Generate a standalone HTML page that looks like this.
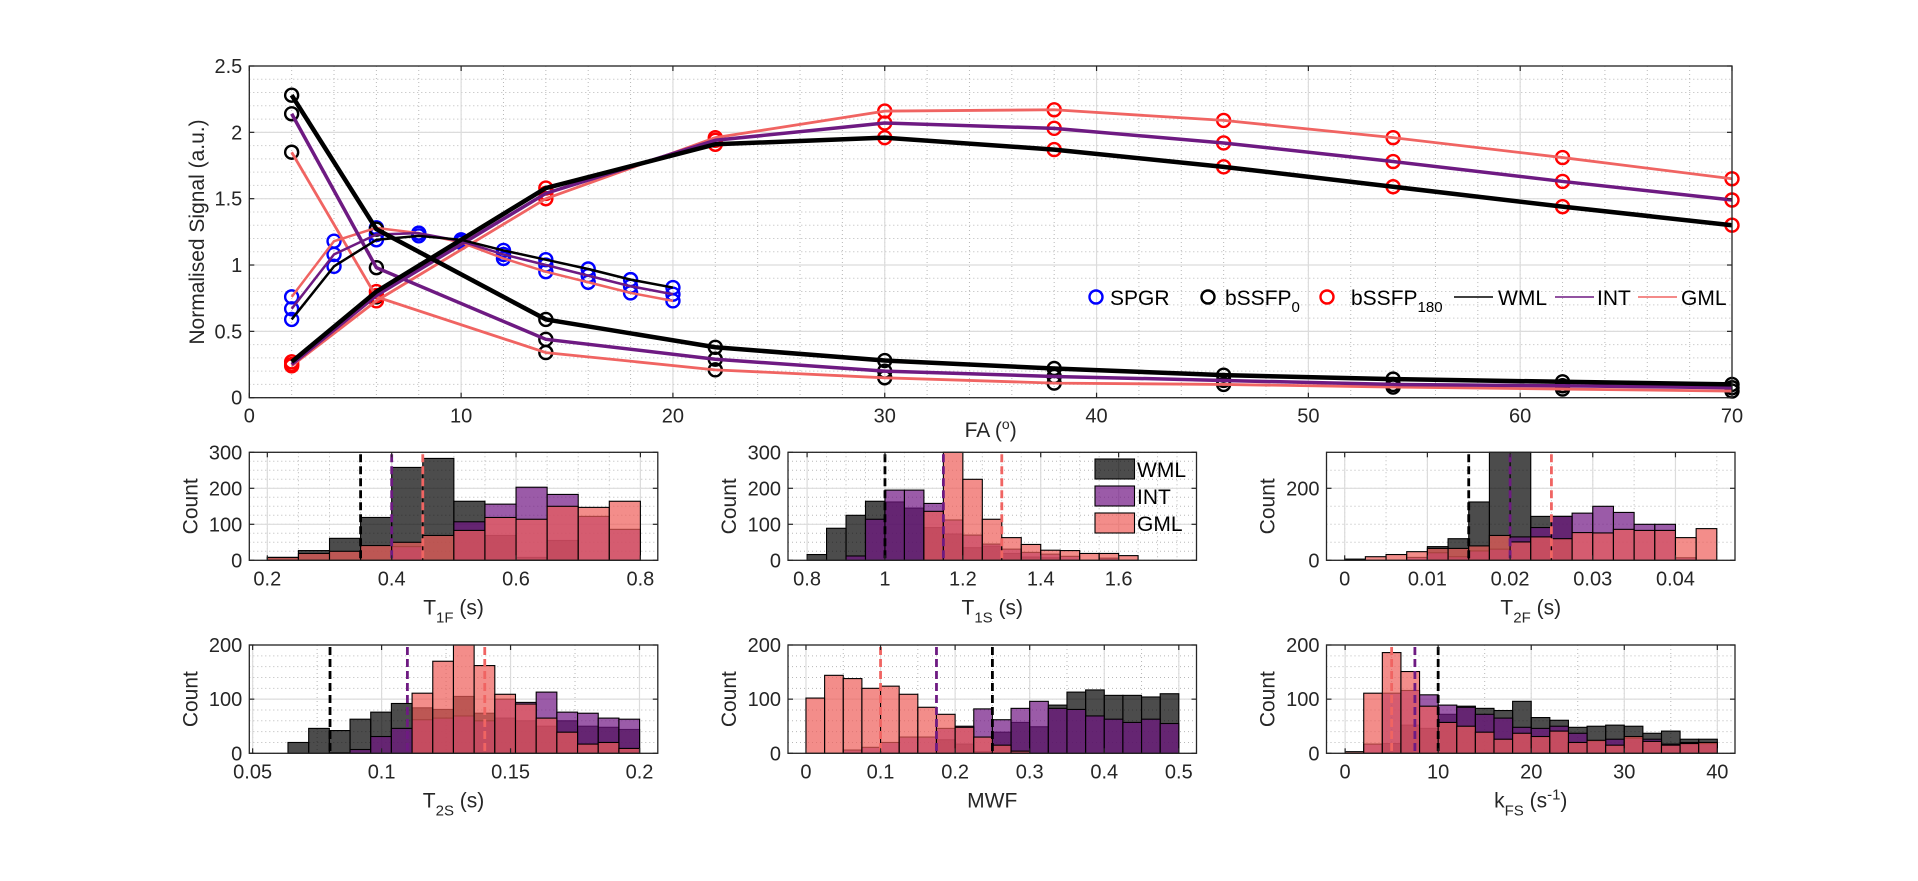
<!DOCTYPE html>
<html><head><meta charset="utf-8"><style>
html,body{margin:0;padding:0;background:#fff;}
svg{display:block;font-family:"Liberation Sans","DejaVu Sans",sans-serif;}
</style></head><body>
<svg id="fig" width="1918" height="881" viewBox="0 0 1918 881" xmlns="http://www.w3.org/2000/svg"></svg>
<script>
// ---------- top chart data ----------
const faSPGR = [2,4,6,8,10,12,14,16,18,20];
const spgrWML = [0.59,0.99,1.19,1.22,1.19,1.11,1.04,0.97,0.89,0.83];
const spgrINT = [0.67,1.08,1.23,1.24,1.18,1.08,1.00,0.92,0.84,0.78];
const spgrGML = [0.76,1.18,1.28,1.24,1.17,1.05,0.95,0.87,0.79,0.73];
const faSSFP = [2,6,14,22,30,38,46,54,62,70];
const ssfp0WML = [2.28,1.27,0.59,0.38,0.28,0.22,0.17,0.14,0.12,0.10];
const ssfp0INT = [2.14,0.98,0.44,0.29,0.20,0.16,0.13,0.10,0.09,0.075];
const ssfp0GML = [1.85,0.76,0.34,0.21,0.15,0.11,0.10,0.08,0.065,0.05];
const ssfp180WML = [0.27,0.80,1.58,1.91,1.96,1.87,1.74,1.59,1.44,1.30];
const ssfp180INT = [0.25,0.77,1.54,1.94,2.07,2.03,1.92,1.78,1.63,1.49];
const ssfp180GML = [0.24,0.73,1.50,1.96,2.16,2.17,2.09,1.96,1.81,1.65];
const topXTicks = [0,10,20,30,40,50,60,70];
const topYTicks = [0,0.5,1,1.5,2,2.5];
const topYTickLabels = ["0","0.5","1","1.5","2","2.5"];

// ---------- histogram data ----------
const t1fStart = 0.2, t1fWidth = 0.05;
const t1fWML = [8,27,61,119,258,283,164,69,8,55,0,0];
const t1fINT = [0,0,0,0,38,0,107,156,203,183,122,86];
const t1fGML = [8,19,25,41,50,69,83,119,114,150,147,164];
const t1fMedians = [0.35,0.40,0.45];

const t1sStart = 0.8, t1sWidth = 0.05;
const t1sWML = [16,89,125,164,162,145,91,73,35,39,19,9,7,0,0,0,0];
const t1sINT = [0,0,12,114,195,195,158,112,70,45,31,22,17,11,0,6,0];
const t1sGML = [0,0,0,0,0,0,136,330,225,114,63,44,28,27,19,19,13];
const t1sMedians = [1.0,1.15,1.3];

const t2fStart = 0, t2fWidth = 0.0025;
const t2fWML = [3,0,0,0,38,60,162,420,400,122,122,0,0,0,0,0,0,0];
const t2fINT = [0,0,0,8,21,10,26,31,65,91,122,131,150,133,100,100,7,0];
const t2fGML = [3,10,16,24,33,33,40,69,51,65,60,77,76,86,83,83,63,88];
const t2fMedians = [0.015,0.02,0.025];

const t2sStart = 0.0637, t2sWidth = 0.00802;
const t2sWML = [20,46,42,63,76,92,84,81,105,74,65,60,50,60,50,48,44];
const t2sINT = [0,0,1,7,31,46,62,65,69,60,100,94,113,76,74,65,63];
const t2sGML = [0,0,0,0,0,0,111,170,205,162,109,91,65,39,17,20,9];
const t2sMedians = [0.08,0.11,0.14];

const mwfStart = 0, mwfWidth = 0.025;
const mwfWML = [0,0,0,0,0,0,0,25,17,3,39,57,49,89,113,117,107,107,104,110];
const mwfINT = [0,0,6,11,20,30,30,46,50,82,62,83,96,83,81,69,63,57,63,55];
const mwfGML = [102,144,138,120,124,109,85,72,48,30,15,4,0,0,0,0,0,0,0,0];
const mwfMedians = [0.25,0.175,0.1];

const kfsStart = 0, kfsWidth = 2;
const kfsWML = [0,0,18,52,46,72,87,83,79,96,66,61,48,50,52,50,37,41,26,26];
const kfsINT = [0,17,111,116,108,89,85,72,65,48,46,50,37,23,26,28,26,17,20,18];
const kfsGML = [3,111,186,151,87,57,50,39,26,37,31,41,20,24,15,31,22,15,18,20];
const kfsMedians = [10,7.5,5];

const groupNames = ["WML","INT","GML"];
const groupColors = ["#000000","#701683","#ee5c59"];
const lineColors = ["#000000","#6e1a82","#f06462"];

// ---------- drawing ----------
const NS = "http://www.w3.org/2000/svg";
const svg = document.getElementById('fig');
const TICKFS = 20, LABFS = 21;
function mk(tag, attrs, parent){
  const e = document.createElementNS(NS, tag);
  for (const k in attrs) e.setAttribute(k, attrs[k]);
  (parent||svg).appendChild(e);
  return e;
}

function axesFrame(g, x0,x1,y0,y1, sx, sy, xlim, ylim, xMaj, yMaj, xMinStep, yMinStep){
  mk('rect',{x:x0,y:y0,width:x1-x0,height:y1-y0,fill:'#fff'},g);
  const minor = mk('g',{stroke:'#b8b8b8','stroke-width':1,'stroke-dasharray':'1,3',fill:'none'},g);
  
  
  let st = Math.ceil(xlim[0]/xMinStep-1e-6);
  for (let k=st; k*xMinStep<=xlim[1]+1e-9; k++){ const X=sx(k*xMinStep); mk('line',{x1:X,x2:X,y1:y0,y2:y1},minor); }
  st = Math.ceil(ylim[0]/yMinStep-1e-6);
  for (let k=st; k*yMinStep<=ylim[1]+1e-9; k++){ const Y=sy(k*yMinStep); mk('line',{x1:x0,x2:x1,y1:Y,y2:Y},minor); }
  const major = mk('g',{stroke:'#dcdcdc','stroke-width':1.2},g);
  
  
  xMaj.forEach(v=>{const X=sx(v); mk('line',{x1:X,x2:X,y1:y0,y2:y1},major);});
  yMaj.forEach(v=>{const Y=sy(v); mk('line',{x1:x0,x2:x1,y1:Y,y2:Y},major);});
}
function axesBox(g, x0,x1,y0,y1, sx, sy, xMaj, yMaj, xLabels, yLabels, fs){
  const t = mk('g',{stroke:'#262626','stroke-width':1.2},g);
  const tl = 5;
  xMaj.forEach(v=>{const X=sx(v); mk('line',{x1:X,x2:X,y1:y1,y2:y1-tl},t); mk('line',{x1:X,x2:X,y1:y0,y2:y0+tl},t);});
  yMaj.forEach(v=>{const Y=sy(v); mk('line',{x1:x0,x2:x0+tl,y1:Y,y2:Y},t); mk('line',{x1:x1,x2:x1-tl,y1:Y,y2:Y},t);});
  const box = mk('rect',{x:x0,y:y0,width:x1-x0,height:y1-y0,fill:'none',stroke:'#262626','stroke-width':1.3},g);
  
  
  xMaj.forEach((v,i)=>{
    const tx = mk('text',{x:sx(v),y:y1+25,'font-size':fs,fill:'#262626','text-anchor':'middle'},g);
    tx.textContent = xLabels[i];
    
    
  });
  yMaj.forEach((v,i)=>{
    const tx = mk('text',{x:x0-7,y:sy(v)+7,'font-size':fs,fill:'#262626','text-anchor':'end'},g);
    tx.textContent = yLabels[i];
    
    
  });
}

// ===== Top chart =====
(function(){
  const x0=249.3,x1=1732,y0=66,y1=397.7;
  const xlim=[0,70], ylim=[0,2.5];
  const sx=v=>x0+(v-xlim[0])/(xlim[1]-xlim[0])*(x1-x0);
  const sy=v=>y1-(v-ylim[0])/(ylim[1]-ylim[0])*(y1-y0);
  const g = mk('g',{});
  
  
  axesFrame(g,x0,x1,y0,y1,sx,sy,xlim,ylim,topXTicks,topYTicks,2,0.1);
  function line(xs,ys,color,w,name){
    const p = mk('polyline',{points:xs.map((x,i)=>sx(x)+','+sy(ys[i])).join(' '),fill:'none',stroke:color,'stroke-width':w,'stroke-linejoin':'round'},g);
    
    
  }
  function circles(xs,ys,color,name){
    const cg = mk('g',{fill:'none',stroke:color,'stroke-width':2.4},g);
    
    
    xs.forEach((x,i)=>mk('circle',{cx:sx(x),cy:sy(ys[i]),r:6.5},cg));
  }
  const widths=[4.5,3.5,2.8];
  const sp=[spgrWML,spgrINT,spgrGML], s0=[ssfp0WML,ssfp0INT,ssfp0GML], s180=[ssfp180WML,ssfp180INT,ssfp180GML];
  for(let i=0;i<3;i++){ circles(faSPGR,sp[i],'#0000ff','spgr-points-'+groupNames[i].toLowerCase()); }
  for(let i=0;i<3;i++){ circles(faSSFP,s0[i],'#000000','bssfp0-points-'+groupNames[i].toLowerCase()); }
  for(let i=0;i<3;i++){ circles(faSSFP,s180[i],'#ff0000','bssfp180-points-'+groupNames[i].toLowerCase()); }
  for(let i=2;i>=0;i--){
    line(faSPGR,sp[i],lineColors[i],2.5,'spgr-line-'+groupNames[i].toLowerCase());
    line(faSSFP,s0[i],lineColors[i],widths[i],'bssfp0-line-'+groupNames[i].toLowerCase());
    line(faSSFP,s180[i],lineColors[i],widths[i],'bssfp180-line-'+groupNames[i].toLowerCase());
  }
  axesBox(g,x0,x1,y0,y1,sx,sy,topXTicks,topYTicks,topXTicks.map(String),topYTickLabels,TICKFS);
  const xl = mk('text',{x:(x0+x1)/2,y:437,'font-size':LABFS,fill:'#262626','text-anchor':'middle'},g);
  xl.innerHTML = 'FA (<tspan dy="-8" font-size="14">o</tspan><tspan dy="8">)</tspan>';
  
  
  const yl = mk('text',{x:0,y:0,'font-size':LABFS,fill:'#262626','text-anchor':'middle',transform:'translate(204,232) rotate(-90)'},g);
  yl.textContent='Normalised Signal (a.u.)';
  
  
  const lg = mk('g',{},g);
  
  
  const ly = 297;
  mk('circle',{cx:1096,cy:ly,r:6.5,fill:'none',stroke:'#0000ff','stroke-width':2.4},lg);
  let t=mk('text',{x:1110,y:ly+8,'font-size':LABFS,fill:'#000'},lg); t.textContent='SPGR';
  mk('circle',{cx:1208,cy:ly,r:6.5,fill:'none',stroke:'#000','stroke-width':2.4},lg);
  t=mk('text',{x:1225,y:ly+8,'font-size':LABFS,fill:'#000'},lg); t.innerHTML='bSSFP<tspan dy="7" font-size="15">0</tspan>';
  mk('circle',{cx:1327,cy:ly,r:6.5,fill:'none',stroke:'#ff0000','stroke-width':2.4},lg);
  t=mk('text',{x:1351,y:ly+8,'font-size':LABFS,fill:'#000'},lg); t.innerHTML='bSSFP<tspan dy="7" font-size="15">180</tspan>';
  const lx=[1454,1555,1638], tx=[1498,1597,1681];
  for(let i=0;i<3;i++){
    mk('line',{x1:lx[i],x2:lx[i]+39,y1:ly,y2:ly,stroke:lineColors[i],'stroke-width':1.5},lg);
    t=mk('text',{x:tx[i],y:ly+8,'font-size':LABFS,fill:'#000'},lg); t.textContent=groupNames[i];
  }
})();

// ===== Histograms =====
function hist(cfg){
  const {x0,x1,y0,y1,xlim,ylim,xt,xtl,yt,xmin,ymin,start,width,series,medians,label,name}=cfg;
  const sx=v=>x0+(v-xlim[0])/(xlim[1]-xlim[0])*(x1-x0);
  const sy=v=>y1-(Math.min(v,ylim[1])-ylim[0])/(ylim[1]-ylim[0])*(y1-y0);
  const g = mk('g',{});
  
  
  axesFrame(g,x0,x1,y0,y1,sx,sy,xlim,ylim,xt,yt,xmin,ymin);
  series.forEach((vals,si)=>{
    const bg = mk('g',{fill:groupColors[si],'fill-opacity':0.7,stroke:'#000','stroke-width':1.1},g);
    
    
    vals.forEach((v,i)=>{
      if(v<=0) return;
      const a=sx(start+i*width), b=sx(start+(i+1)*width);
      const r = mk('rect',{x:a,y:sy(v),width:b-a,height:y1-sy(v)},bg);
      
      
    });
  });
  medians.forEach((m,i)=>{
    const l = mk('line',{x1:sx(m),x2:sx(m),y1:y0+2,y2:y1,stroke:lineColors[i],'stroke-width':2.8,'stroke-dasharray':'8,4'},g);
    
    
  });
  axesBox(g,x0,x1,y0,y1,sx,sy,xt,yt,xtl,yt.map(String),TICKFS);
  const xl = mk('text',{x:(x0+x1)/2,y:y1+54,'font-size':LABFS,fill:'#262626','text-anchor':'middle'},g);
  xl.innerHTML = label;
  
  
  const yl = mk('text',{x:0,y:0,'font-size':LABFS,fill:'#262626','text-anchor':'middle',transform:'translate('+(x0-52)+','+((y0+y1)/2)+') rotate(-90)'},g);
  yl.textContent='Count';
  
  
  return g;
}
const sub = s=>'<tspan dy="8" font-size="15">'+s+'</tspan><tspan dy="-8">';
const r1=[452.3,560.3], r2=[645,753.3];
const c1=[249.3,657.8], c2=[788,1196.5], c3=[1326.5,1735];
hist({name:'t1f-histogram',x0:c1[0],x1:c1[1],y0:r1[0],y1:r1[1],xlim:[0.171,0.828],ylim:[0,300],xt:[0.2,0.4,0.6,0.8],xtl:['0.2','0.4','0.6','0.8'],yt:[0,100,200,300],xmin:0.05,ymin:25,start:t1fStart,width:t1fWidth,series:[t1fWML,t1fINT,t1fGML],medians:t1fMedians,label:'T'+sub('1F')+' (s)</tspan>'});
hist({name:'t1s-histogram',x0:c2[0],x1:c2[1],y0:r1[0],y1:r1[1],xlim:[0.751,1.80],ylim:[0,300],xt:[0.8,1,1.2,1.4,1.6],xtl:['0.8','1','1.2','1.4','1.6'],yt:[0,100,200,300],xmin:0.05,ymin:25,start:t1sStart,width:t1sWidth,series:[t1sWML,t1sINT,t1sGML],medians:t1sMedians,label:'T'+sub('1S')+' (s)</tspan>'});
hist({name:'t2f-histogram',x0:c3[0],x1:c3[1],y0:r1[0],y1:r1[1],xlim:[-0.0022,0.0472],ylim:[0,300],xt:[0,0.01,0.02,0.03,0.04],xtl:['0','0.01','0.02','0.03','0.04'],yt:[0,200],xmin:0.005,ymin:50,start:t2fStart,width:t2fWidth,series:[t2fWML,t2fINT,t2fGML],medians:t2fMedians,label:'T'+sub('2F')+' (s)</tspan>'});
hist({name:'t2s-histogram',x0:c1[0],x1:c1[1],y0:r2[0],y1:r2[1],xlim:[0.0487,0.2071],ylim:[0,200],xt:[0.05,0.1,0.15,0.2],xtl:['0.05','0.1','0.15','0.2'],yt:[0,100,200],xmin:0.025,ymin:20,start:t2sStart,width:t2sWidth,series:[t2sWML,t2sINT,t2sGML],medians:t2sMedians,label:'T'+sub('2S')+' (s)</tspan>'});
hist({name:'mwf-histogram',x0:c2[0],x1:c2[1],y0:r2[0],y1:r2[1],xlim:[-0.0241,0.5237],ylim:[0,200],xt:[0,0.1,0.2,0.3,0.4,0.5],xtl:['0','0.1','0.2','0.3','0.4','0.5'],yt:[0,100,200],xmin:0.05,ymin:20,start:mwfStart,width:mwfWidth,series:[mwfWML,mwfINT,mwfGML],medians:mwfMedians,label:'MWF'});
hist({name:'kfs-histogram',x0:c3[0],x1:c3[1],y0:r2[0],y1:r2[1],xlim:[-2,41.9],ylim:[0,200],xt:[0,10,20,30,40],xtl:['0','10','20','30','40'],yt:[0,100,200],xmin:5,ymin:20,start:kfsStart,width:kfsWidth,series:[kfsWML,kfsINT,kfsGML],medians:kfsMedians,label:'k'+sub('FS')+' (s<tspan dy="-8" font-size="15">-1</tspan><tspan dy="8">)</tspan></tspan>'});

// histogram legend
(function(){
  const lg = mk('g',{});
  
  
  const ys=[459,486,513];
  for(let i=0;i<3;i++){
    const r = mk('rect',{x:1095,y:ys[i],width:39.5,height:20,fill:groupColors[i],'fill-opacity':0.7,stroke:'#000','stroke-width':1.1},lg);
    
    
    const t = mk('text',{x:1137,y:ys[i]+18,'font-size':LABFS,fill:'#000'},lg);
    t.textContent=groupNames[i];
  }
})();
</script>
</body></html>
